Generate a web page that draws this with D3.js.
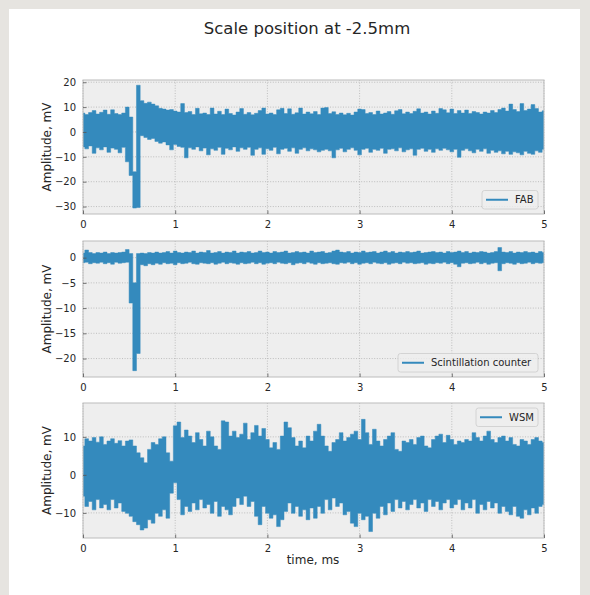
<!DOCTYPE html>
<html>
<head>
<meta charset="utf-8">
<script src="https://cdn.jsdelivr.net/npm/d3@7"></script>
<style>
  html, body { margin: 0; padding: 0; background: #e6e4e0; }
  svg { display: block; }
  text { font-family: "DejaVu Sans", sans-serif; }
</style>
</head>
<body>
<svg id="chart" width="590" height="595"></svg>
<script>
// ---------- data ----------
const title = "Scale position at -2.5mm";
const xLabel = "time, ms";
const yLabel = "Amplitude, mV";
const seriesNames = ["FAB", "Scintillation counter", "WSM"];
const sampleStep = 0.04; // ms between envelope samples, 0 .. 5 ms
const xTicks = [0, 1, 2, 3, 4, 5];
const fabTicks = [20, 10, 0, -10, -20, -30];
const scintTicks = [0, -5, -10, -15, -20];
const wsmTicks = [10, 0, -10];

// upper / lower envelope of each noisy trace, one value per sample
const fabHigh = [7.6,7.0,7.8,8.6,7.2,7.9,8.8,7.1,8.9,7.4,7.0,7.6,10.0,6.0,-16,18.8,12.6,11.5,12.0,11.2,
  10.5,9.5,9.2,8.8,9.0,8.4,8.0,11.4,7.8,8.2,7.0,9.5,7.3,7.6,7.0,9.6,7.2,8.3,7.0,9.2,
  7.4,6.8,8.0,9.4,7.1,7.8,6.9,7.5,8.6,9.6,7.2,7.6,7.0,8.9,9.5,7.4,9.3,7.1,7.7,9.6,
  7.2,8.0,7.3,8.2,7.0,9.6,9.8,7.4,8.1,7.0,7.6,6.9,7.5,6.8,8.0,9.2,9.0,7.4,7.8,7.0,
  8.4,7.2,7.6,8.2,7.1,8.5,9.0,7.3,8.0,7.4,8.3,9.3,7.6,8.0,7.2,8.4,7.5,9.4,8.9,7.7,
  9.2,7.4,8.6,7.6,8.8,7.4,8.2,7.8,7.2,8.0,7.6,8.6,7.8,9.0,9.6,8.4,11.2,9.0,8.2,11.4,
  8.6,9.2,11.0,9.4,8.0,8.5];
const fabLow = [-6.0,-6.8,-5.6,-8.6,-6.4,-7.2,-6.0,-8.2,-6.5,-7.0,-8.4,-6.2,-12.0,-17.5,-30.6,-30.4,-1.5,-2.2,-3.0,-2.6,
  -3.8,-4.5,-4.0,-5.2,-7.2,-5.0,-5.8,-6.2,-10.4,-6.4,-7.0,-6.0,-7.6,-6.5,-9.2,-6.8,-7.4,-6.2,-9.0,-6.6,
  -7.2,-6.0,-7.8,-6.4,-7.0,-6.2,-9.4,-7.0,-6.4,-9.0,-6.8,-7.4,-6.2,-8.8,-7.0,-6.6,-7.8,-6.4,-8.6,-7.0,
  -6.4,-7.6,-6.8,-7.2,-8.0,-7.4,-7.0,-7.6,-10.4,-7.2,-6.6,-8.0,-7.0,-6.4,-7.4,-9.2,-7.0,-6.6,-8.2,-7.0,
  -7.4,-6.6,-8.6,-7.0,-6.8,-7.6,-6.4,-8.0,-7.2,-6.8,-9.4,-7.0,-6.6,-7.8,-7.0,-8.2,-6.8,-7.4,-6.6,-7.2,
  -8.0,-7.0,-10.2,-7.4,-6.8,-7.6,-8.4,-7.0,-7.8,-6.8,-8.6,-7.4,-8.2,-7.6,-8.8,-7.8,-9.0,-8.0,-8.4,-9.2,
  -7.8,-8.6,-9.0,-7.6,-8.2,-7.0];

const scintHigh = [0.9,1.5,1.0,0.8,1.0,0.9,1.1,0.8,1.0,0.9,1.0,1.1,1.6,0.8,-5.0,0.8,0.9,0.8,1.0,0.9,
  1.1,0.9,1.0,1.2,0.9,1.3,1.0,0.9,1.1,1.0,1.3,0.9,1.1,1.0,1.4,0.9,1.0,1.2,0.9,1.1,
  1.0,1.3,0.9,1.1,1.0,1.2,0.9,1.0,1.3,1.0,1.1,0.9,1.2,1.0,1.1,1.3,0.9,1.0,1.2,1.0,
  1.1,0.9,1.3,1.0,1.1,1.2,0.9,1.0,1.3,1.5,1.1,1.0,1.2,0.9,1.1,1.0,1.3,1.0,1.1,1.2,
  0.9,1.1,1.3,1.0,1.2,0.9,1.1,1.0,1.2,1.0,1.1,1.3,0.9,1.0,1.1,1.2,1.0,1.1,0.9,1.2,
  1.0,1.1,1.3,1.0,1.2,0.9,1.1,1.0,1.2,1.1,0.9,1.0,1.2,2.0,1.1,1.0,1.2,0.9,1.1,1.0,
  1.2,1.0,1.1,0.9,1.2,1.0];
const scintLow = [-1.0,-0.9,-1.2,-1.0,-1.1,-0.9,-1.2,-1.0,-1.3,-0.9,-1.1,-1.0,-0.9,-9.0,-22.4,-19.0,-1.4,-1.6,-1.2,-1.4,
  -1.1,-1.3,-1.0,-1.2,-1.1,-1.4,-1.0,-1.2,-1.1,-0.9,-1.2,-1.3,-1.0,-1.1,-1.2,-1.0,-1.3,-1.1,-0.9,-1.2,
  -1.0,-1.1,-1.3,-1.0,-1.2,-1.1,-0.9,-1.2,-1.0,-1.3,-1.1,-1.0,-1.2,-0.9,-1.1,-1.2,-1.0,-1.4,-1.1,-1.0,
  -1.2,-0.9,-1.1,-1.3,-1.0,-1.2,-1.1,-1.0,-1.2,-1.3,-1.0,-1.1,-0.9,-1.2,-1.0,-1.3,-1.1,-1.0,-1.2,-0.9,
  -1.1,-1.2,-1.0,-1.3,-1.1,-1.0,-1.2,-0.9,-1.1,-1.0,-1.2,-1.1,-1.0,-1.3,-1.1,-1.2,-1.0,-1.1,-0.9,-1.2,
  -1.0,-1.3,-1.8,-1.1,-1.0,-1.2,-1.1,-0.9,-1.2,-1.0,-1.3,-1.1,-1.0,-2.6,-1.2,-1.0,-1.1,-1.3,-1.0,-1.2,
  -1.1,-0.9,-1.2,-1.0,-1.1,-1.0];

const wsmHigh = [7.6,9.5,8.9,9.8,8.6,10.0,8.0,8.9,9.5,8.3,9.0,7.6,8.9,9.2,7.6,5.8,4.5,3.2,6.7,8.5,
  8.0,9.5,10.0,5.8,3.6,12.9,13.9,9.8,11.8,10.2,8.5,11.1,9.3,7.6,11.5,10.0,7.6,6.7,14.2,13.9,
  10.2,11.5,9.8,10.7,13.6,9.3,11.1,13.0,10.2,12.2,9.3,7.1,8.5,6.7,10.2,13.9,12.4,9.8,7.6,8.9,
  7.1,10.2,8.9,11.5,13.3,10.2,7.6,6.2,8.5,9.3,11.1,8.9,9.8,10.7,11.5,9.3,14.6,11.1,8.0,12.0,
  8.9,7.6,9.3,10.2,11.1,6.7,6.2,8.9,8.5,9.3,8.0,9.8,10.2,7.6,7.1,9.3,10.2,10.7,8.5,10.4,
  9.3,8.0,8.9,8.5,9.3,8.9,11.1,9.8,8.9,10.2,11.5,9.3,8.5,9.8,10.2,8.9,9.8,8.0,7.6,9.3,
  8.9,8.0,9.3,9.8,8.9,8.5];
const wsmLow = [-5.6,-8.3,-7.0,-9.2,-6.5,-8.7,-7.8,-9.2,-6.5,-8.7,-7.4,-9.6,-10.1,-10.9,-12.3,-13.1,-14.5,-14.0,-11.8,-12.7,
  -10.1,-10.9,-9.2,-11.4,-4.8,-2.1,-6.5,-10.5,-8.3,-9.6,-7.4,-9.2,-6.5,-8.7,-7.8,-10.1,-7.0,-10.9,-8.3,-9.2,
  -10.5,-8.3,-6.1,-7.8,-5.6,-8.3,-7.0,-10.9,-13.1,-8.3,-10.1,-11.4,-10.5,-13.6,-11.8,-9.6,-7.4,-10.1,-8.3,-10.9,
  -9.2,-11.8,-8.7,-11.4,-8.3,-10.1,-6.5,-9.2,-6.1,-8.3,-7.4,-10.5,-9.6,-12.7,-13.6,-10.1,-11.8,-10.9,-14.9,-10.1,
  -11.4,-8.3,-10.5,-7.4,-9.6,-6.5,-8.7,-7.0,-9.2,-7.8,-6.5,-8.7,-7.4,-9.6,-6.5,-8.3,-7.0,-9.2,-7.4,-6.5,
  -8.7,-7.8,-6.5,-9.2,-7.4,-8.7,-6.5,-10.1,-7.8,-9.2,-7.0,-8.7,-7.4,-10.1,-8.3,-9.6,-10.5,-8.3,-10.9,-11.4,
  -9.2,-10.5,-8.7,-10.1,-8.3,-7.8];

// ---------- drawing ----------
const svg = d3.select("#chart");
const C = {
  line: "#348ABD", face: "#eeeeee", edge: "#bcbcbc", grid: "#b2b2b2", text: "#262626"
};

// figure background
svg.append("rect").attr("x", 9).attr("y", 9).attr("width", 571).attr("height", 586).attr("fill", "#ffffff");

svg.append("text").attr("x", 307).attr("y", 34).attr("text-anchor", "middle")
  .attr("font-size", 16.5).attr("fill", C.text).text(title);

const left = 83, right = 544;
const x = d3.scaleLinear().domain([0, 5]).range([left, right]);

const panels = [
  { name: seriesNames[0], hi: fabHigh, lo: fabLow, ticks: fabTicks, top: 80, bottom: 214, domain: [-33.0, 20.9], legend: "br" },
  { name: seriesNames[1], hi: scintHigh, lo: scintLow, ticks: scintTicks, top: 241, bottom: 377, domain: [-23.66, 3.3], legend: "br" },
  { name: seriesNames[2], hi: wsmHigh, lo: wsmLow, ticks: wsmTicks, top: 403, bottom: 538, domain: [-16.6, 18.9], legend: "tr" }
];

panels.forEach((p, k) => {
  const y = d3.scaleLinear().domain(p.domain).range([p.bottom, p.top]);
  const g = svg.append("g");
  const clipId = "clip" + k;
  svg.append("clipPath").attr("id", clipId).append("rect")
    .attr("x", left).attr("y", p.top).attr("width", right - left).attr("height", p.bottom - p.top);

  g.append("rect").attr("x", left).attr("y", p.top).attr("width", right - left)
    .attr("height", p.bottom - p.top).attr("fill", C.face);

  // grid
  const gg = g.append("g").attr("stroke", C.grid).attr("stroke-width", 0.8).attr("stroke-dasharray", "1,1.6");
  xTicks.forEach(t => gg.append("line").attr("x1", x(t)).attr("x2", x(t)).attr("y1", p.top).attr("y2", p.bottom));
  p.ticks.forEach(t => gg.append("line").attr("y1", y(t)).attr("y2", y(t)).attr("x1", left).attr("x2", right));

  // data band (trace envelope)
  const times = p.hi.map((_, i) => i * sampleStep);
  const area = d3.area().curve(d3.curveStep)
    .x((d, i) => x(times[i])).y0((d, i) => y(p.lo[i])).y1((d, i) => y(p.hi[i]));
  g.append("path").datum(p.hi).attr("clip-path", `url(#${clipId})`)
    .attr("d", area).attr("fill", C.line).attr("stroke", C.line).attr("stroke-width", 0.5);

  // frame
  g.append("rect").attr("x", left).attr("y", p.top).attr("width", right - left)
    .attr("height", p.bottom - p.top).attr("fill", "none").attr("stroke", C.edge).attr("stroke-width", 1);

  // axes
  const xa = d3.axisBottom(x).tickValues(xTicks).tickSizeInner(-3.5).tickSizeOuter(0).tickPadding(7)
    .tickFormat(d3.format("d"));
  const ax = g.append("g").attr("transform", `translate(0,${p.bottom})`).call(xa);
  const ya = d3.axisLeft(y).tickValues(p.ticks).tickSizeInner(-3.5).tickSizeOuter(0).tickPadding(7)
    .tickFormat(d => d < 0 ? "\u2212" + Math.abs(d) : String(d));
  const ay = g.append("g").attr("transform", `translate(${left},0)`).call(ya);
  [ax, ay].forEach(a => {
    a.select(".domain").remove();
    a.selectAll("line").attr("stroke", "#555555").attr("stroke-width", 0.8);
    a.selectAll("text").attr("font-size", 10).attr("fill", C.text).attr("font-family", "DejaVu Sans");
  });

  g.append("text").attr("transform", `translate(51,${(p.top + p.bottom) / 2}) rotate(-90)`)
    .attr("text-anchor", "middle").attr("font-size", 12).attr("fill", C.text).text(yLabel);

  // legend
  const lw = p.name.length > 5 ? 140 : (p.name === "FAB" ? 56 : 62);
  const lh = 18.5;
  const lx = right - 6 - lw;
  const ly = p.legend === "br" ? p.bottom - 5 - lh : p.top + 5;
  const lg = g.append("g");
  lg.append("rect").attr("x", lx).attr("y", ly).attr("width", lw).attr("height", lh).attr("rx", 2.5)
    .attr("fill", "#eeeeee").attr("fill-opacity", 0.8).attr("stroke", "#cccccc").attr("stroke-width", 0.8);
  lg.append("line").attr("x1", lx + 4).attr("x2", lx + 26).attr("y1", ly + lh / 2).attr("y2", ly + lh / 2)
    .attr("stroke", C.line).attr("stroke-width", 2);
  lg.append("text").attr("x", lx + 33).attr("y", ly + lh / 2 + 3.5).attr("font-size", 10)
    .attr("fill", C.text).text(p.name);
});

svg.append("text").attr("x", 313).attr("y", 564).attr("text-anchor", "middle")
  .attr("font-size", 12).attr("fill", C.text).text(xLabel);
</script>
</body>
</html>
